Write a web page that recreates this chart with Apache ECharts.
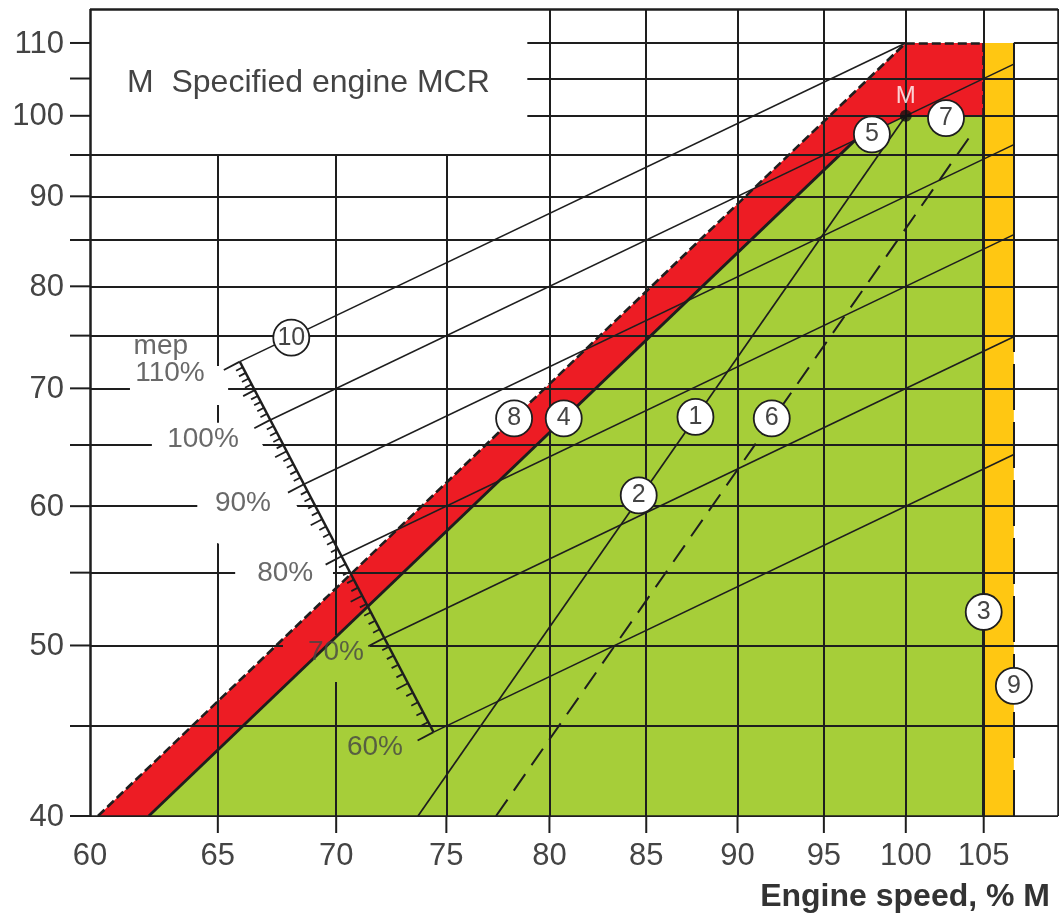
<!DOCTYPE html>
<html><head><meta charset="utf-8">
<script src="https://cdn.jsdelivr.net/npm/echarts@6/dist/echarts.min.js"></script>
<style>html,body{margin:0;padding:0;background:#fff}#c{width:1059px;height:918px}</style>
</head><body><div id="c"></div>
<script>
// ---------- axes ----------
const xMin = 60, xMax = 110, yMin = 40, yMax = 115;
const xTicks = [60, 65, 70, 75, 80, 85, 90, 95, 100, 105];
const xLabels = [60, 65, 70, 75, 80, 85, 90, 95, 100, 105];
const yTicks = [40, 45, 50, 55, 60, 65, 70, 75, 80, 85, 90, 95, 100, 105, 110];
const yLabels = [40, 50, 60, 70, 80, 90, 100, 110];
const legendBoxRightN = 78.9, legendBoxBottomP = 95;

// ---------- layout diagram lines (engine speed %, power %) ----------
const mcr = [100, 100];                    // M, specified MCR
const line1 = [[73.68, 40], [100, 100]];   // propeller curve through M (lines 1 / 2)
const line4 = [[62.25, 40], [96.9, 96.9]]; // torque/speed limit
const line6 = [[77.37, 40], [104.3, 97.9]];// light running propeller curve (dashed)
const line8 = [[60.3, 40], [100, 110]];    // overload limit
const speedLimitN = 105;                   // line 3
const seaTrialN = 107;                     // line 9
const overloadP = 110;
const line9SolidFromP = 75;

// ---------- mep scale (line 10 family) ----------
const mepValues = [110, 100, 90, 80, 70, 60];
const mepLineEndN = [100, 107, 107, 107, 107, 107];
const mepScaleMep = [110, 60];
const mepScaleN = [65.9, 74.4];
const mepLabelText = ['mep', '110%', '100%', '90%', '80%', '70%', '60%'];
const mepLabelN = [62.72, 63.08, 64.40, 66.03, 67.80, 69.99, 71.72];
const mepLabelP = [73.99, 71.42, 65.45, 60.25, 54.99, 49.57, 43.78];

// white knock-out areas round the mep labels
const maskPolys = [
  [[61.52, 72.08], [65.42, 72.08], [65.42, 68.49], [61.52, 68.49]],
  [[62.37, 66.92], [66.53, 66.92], [66.82, 65.11], [68.30, 60.01], [69.86, 55.06], [69.86, 53.64],
   [65.71, 53.64], [65.71, 56.66], [64.97, 57.18], [64.17, 58.16], [64.17, 62.09], [62.37, 63.32]]
];
// knock-out box round "70%" (grid removed, zone colours kept)
const knockBox = [[67.71, 50.69], [71.5, 47.67]];

// ---------- numbered markers ----------
const markerIds = ['1', '2', '3', '4', '5', '6', '7', '8', '9', '10'];
const markerN = [87.66, 84.6, 105, 80.72, 97.9, 91.95, 102.55, 78.25, 107, 68.06];
const markerP = [67.43, 60.85, 52.24, 67.3, 97.6, 67.3, 99.7, 67.3, 47.42, 74.8];

// ---------- colours ----------
const GREEN = '#a6ce39', RED = '#ed1c24', YELLOW = '#ffc712', INK = '#1e1e1e', TXT = '#444';
const FONT = '"Liberation Sans", Arial, sans-serif';

// filled zones
const greenPoly = [line4[0], line4[1], mcr, [speedLimitN, 100], [speedLimitN, yMin]];
const redPoly = [line8[0], line8[1], [speedLimitN, overloadP], [speedLimitN, 100], mcr, line4[1], line4[0]];
const yellowPoly = [[speedLimitN, yMin], [seaTrialN, yMin], [seaTrialN, overloadP], [speedLimitN, overloadP]];
const fillPolys = [greenPoly, redPoly, yellowPoly];
const fillColors = [GREEN, RED, YELLOW];

// grid segments
const gridSegs = [];
xTicks.forEach(n => {
  if (n === xMin) return;
  gridSegs.push({coords: [[n, yMin], [n, n < legendBoxRightN ? legendBoxBottomP : yMax]]});
});
yTicks.forEach(p => {
  if (p === yMin) return;
  const left = p > legendBoxBottomP ? legendBoxRightN : xMin;
  if (p === overloadP) {
    gridSegs.push({coords: [[left, p], [mcr[0], p]]});
    gridSegs.push({coords: [[seaTrialN, p], [xMax, p]]});
  } else gridSegs.push({coords: [[left, p], [xMax, p]]});
});
const frameSegs = [
  [[xMin, yMin], [xMin, yMax]], [[xMin, yMax], [xMax, yMax]],
  [[xMin, yMin], [xMax, yMin]], [[xMax, yMin], [xMax, yMax]]
].map(c => ({coords: c, lineStyle: {width: 2.5}}));

const loadSegs = [
  {coords: line1, lineStyle: {width: 1.7}},
  {coords: line6, lineStyle: {width: 2, type: [20, 11]}},
  {coords: line4, lineStyle: {width: 2.8}},
  {coords: line8, lineStyle: {width: 2.6, type: [9, 4]}},
  {coords: [[mcr[0], overloadP], [speedLimitN, overloadP]], lineStyle: {width: 2.6, type: [9, 4]}},
  {coords: [[speedLimitN, overloadP], [speedLimitN, 100]], lineStyle: {width: 2.6, type: [9, 4]}},
  {coords: [[speedLimitN, yMin], [speedLimitN, 100]], lineStyle: {width: 3}},
  {coords: [[seaTrialN, yMin], [seaTrialN, line9SolidFromP]], lineStyle: {width: 2, type: [46, 12]}},
  {coords: [[seaTrialN, line9SolidFromP], [seaTrialN, overloadP]], lineStyle: {width: 2}}
];

const L = Math.log10;
function mepPoint(m) {
  const uA = L(mepScaleN[0]), vA = L(mepScaleN[0] * mepScaleMep[0] / 100);
  const uB = L(mepScaleN[1]), vB = L(mepScaleN[1] * mepScaleMep[1] / 100);
  const t = (L(m / 100) - L(mepScaleMep[0] / 100)) / (L(mepScaleMep[1] / 100) - L(mepScaleMep[0] / 100));
  return [Math.pow(10, uA + t * (uB - uA)), Math.pow(10, vA + t * (vB - vA))];
}
// Sutherland-Hodgman clip of a pixel polygon against an axis-aligned box
function clipPoly(pts, x0, x1, y0, y1) {
  const edges = [
    [p => p[0] >= x0, (a, b) => { const t = (x0 - a[0]) / (b[0] - a[0]); return [x0, a[1] + t * (b[1] - a[1])]; }],
    [p => p[0] <= x1, (a, b) => { const t = (x1 - a[0]) / (b[0] - a[0]); return [x1, a[1] + t * (b[1] - a[1])]; }],
    [p => p[1] >= y0, (a, b) => { const t = (y0 - a[1]) / (b[1] - a[1]); return [a[0] + t * (b[0] - a[0]), y0]; }],
    [p => p[1] <= y1, (a, b) => { const t = (y1 - a[1]) / (b[1] - a[1]); return [a[0] + t * (b[0] - a[0]), y1]; }]
  ];
  let out = pts;
  edges.forEach(([inside, cut]) => {
    const inp = out; out = [];
    for (let i = 0; i < inp.length; i++) {
      const cur = inp[i], prev = inp[(i + inp.length - 1) % inp.length];
      if (inside(cur)) { if (!inside(prev)) out.push(cut(prev, cur)); out.push(cur); }
      else if (inside(prev)) out.push(cut(prev, cur));
    }
  });
  return out;
}

const chart = echarts.init(document.getElementById('c'), null, {renderer: 'canvas'});
chart.setOption({
  animation: false,
  backgroundColor: '#fff',
  grid: {left: 90, right: 1, top: 9, bottom: 102},
  xAxis: {type: 'log', logBase: 10, min: xMin, max: xMax, show: false},
  yAxis: {type: 'log', logBase: 10, min: yMin, max: yMax, show: false},
  title: [
    {text: 'Engine speed, % M', right: 9, top: 881, padding: 0,
     textStyle: {fontSize: 32, fontWeight: 'bold', color: '#333', fontFamily: FONT}},
    {text: 'M  Specified engine MCR', left: 127, top: 67, padding: 0,
     textStyle: {fontSize: 32, fontWeight: 'normal', color: TXT, fontFamily: FONT}}
  ],
  series: [
    { // zones
      type: 'custom', coordinateSystem: 'cartesian2d', z: 1, silent: true,
      data: fillPolys.map(p => p[0]),
      renderItem: (params, api) => ({
        type: 'polygon',
        shape: {points: fillPolys[params.dataIndex].map(p => api.coord(p))},
        style: {fill: fillColors[params.dataIndex]}
      })
    },
    { // grid
      type: 'lines', coordinateSystem: 'cartesian2d', z: 2, silent: true,
      lineStyle: {color: INK, width: 2, opacity: 1},
      data: gridSegs.concat(frameSegs)
    },
    { // white knock-outs
      type: 'custom', coordinateSystem: 'cartesian2d', z: 3, silent: true,
      data: maskPolys.map(p => p[0]),
      renderItem: (params, api) => ({
        type: 'polygon',
        shape: {points: maskPolys[params.dataIndex].map(p => api.coord(p))},
        style: {fill: '#fff'}
      })
    },
    { // coloured knock-out behind "70%"
      type: 'custom', coordinateSystem: 'cartesian2d', z: 3, silent: true,
      data: [knockBox[0]],
      renderItem: (params, api) => {
        const a = api.coord(knockBox[0]), b = api.coord(knockBox[1]);
        const x0 = Math.round(Math.min(a[0], b[0])), x1 = Math.round(Math.max(a[0], b[0]));
        const y0 = Math.round(Math.min(a[1], b[1])), y1 = Math.round(Math.max(a[1], b[1]));
        const children = [{type: 'rect', shape: {x: x0, y: y0, width: x1 - x0, height: y1 - y0}, style: {fill: '#fff'}}];
        fillPolys.forEach((poly, i) => {
          const c = clipPoly(poly.map(p => api.coord(p)), x0, x1, y0, y1);
          if (c.length > 2) children.push({type: 'polygon', shape: {points: c}, style: {fill: fillColors[i]}});
        });
        return {type: 'group', children};
      }
    },
    { // y ticks + labels
      type: 'custom', coordinateSystem: 'cartesian2d', z: 3, silent: true,
      data: yTicks.map(v => [xMin, v]),
      renderItem: (params, api) => {
        const v = api.value(1);
        const p = api.coord([xMin, v]);
        const children = [{type: 'line', shape: {x1: p[0] - 20, y1: p[1], x2: p[0], y2: p[1]},
          style: {stroke: INK, lineWidth: 2}}];
        if (yLabels.indexOf(v) >= 0) children.push({type: 'text', x: p[0] - 26, y: p[1] + 1,
          style: {text: String(v), fill: TXT, fontSize: 31, fontFamily: FONT, align: 'right', verticalAlign: 'middle'}});
        return {type: 'group', children};
      }
    },
    { // x ticks + labels
      type: 'custom', coordinateSystem: 'cartesian2d', z: 3, silent: true,
      data: xTicks.map(v => [v, yMin]),
      renderItem: (params, api) => {
        const v = api.value(0);
        const p = api.coord([v, yMin]);
        const children = [];
        if (v !== xMin) children.push({type: 'line', shape: {x1: p[0], y1: p[1], x2: p[0], y2: p[1] + 17},
          style: {stroke: INK, lineWidth: 2}});
        if (xLabels.indexOf(v) >= 0) children.push({type: 'text', x: p[0], y: p[1] + 40,
          style: {text: String(v), fill: TXT, fontSize: 31, fontFamily: FONT, align: 'center', verticalAlign: 'middle'}});
        return {type: 'group', children};
      }
    },
    { // load lines
      type: 'lines', coordinateSystem: 'cartesian2d', z: 4, silent: true,
      lineStyle: {color: INK, width: 2, opacity: 1},
      data: loadSegs
    },
    { // mep scale + constant mep lines
      type: 'custom', coordinateSystem: 'cartesian2d', z: 4, silent: true,
      data: [mepPoint(mepScaleMep[0])],
      renderItem: (params, api) => {
        const A = api.coord(mepPoint(mepScaleMep[0])), B = api.coord(mepPoint(mepScaleMep[1]));
        const dx = B[0] - A[0], dy = B[1] - A[1], len = Math.hypot(dx, dy);
        const nx = -dy / len, ny = dx / len;
        const children = [{type: 'line', shape: {x1: A[0], y1: A[1], x2: B[0], y2: B[1]},
          style: {stroke: INK, lineWidth: 2.4}}];
        for (let m = mepScaleMep[1]; m <= mepScaleMep[0]; m++) {
          const p = api.coord(mepPoint(m));
          const tl = m % 10 === 0 ? 18 : (m % 5 === 0 ? 13 : 7.5);
          children.push({type: 'line', shape: {x1: p[0], y1: p[1], x2: p[0] + nx * tl, y2: p[1] + ny * tl},
            style: {stroke: INK, lineWidth: 1.8}});
        }
        mepValues.forEach((m, i) => {
          const s = api.coord(mepPoint(m));
          const e = api.coord([mepLineEndN[i], mepLineEndN[i] * m / 100]);
          children.push({type: 'line', shape: {x1: s[0], y1: s[1], x2: e[0], y2: e[1]},
            style: {stroke: INK, lineWidth: 1.6}});
        });
        return {type: 'group', children};
      }
    },
    { // mep labels
      type: 'scatter', z: 6, silent: true, symbolSize: 0,
      data: mepLabelText.map((t, i) => ({value: [mepLabelN[i], mepLabelP[i]], name: t})),
      label: {show: true, position: 'inside', formatter: '{b}', fontSize: 28, color: TXT, fontFamily: FONT}
    },
    { // numbered markers
      type: 'scatter', z: 6, silent: true, symbol: 'circle', symbolSize: 36,
      itemStyle: {color: '#fff', borderColor: INK, borderWidth: 1.8, opacity: 1},
      data: markerIds.map((t, i) => ({value: [markerN[i], markerP[i]], name: t})),
      label: {show: true, position: 'inside', formatter: '{b}', fontSize: 25, color: TXT, fontFamily: FONT}
    },
    { // M point
      type: 'scatter', z: 7, silent: true, symbol: 'circle', symbolSize: 12,
      itemStyle: {color: '#111'},
      data: [{value: mcr, name: 'M'}],
      label: {show: true, position: 'top', distance: 1, formatter: '{b}', fontSize: 24, color: '#fff', fontFamily: FONT}
    }
  ]
});
</script></body></html>
